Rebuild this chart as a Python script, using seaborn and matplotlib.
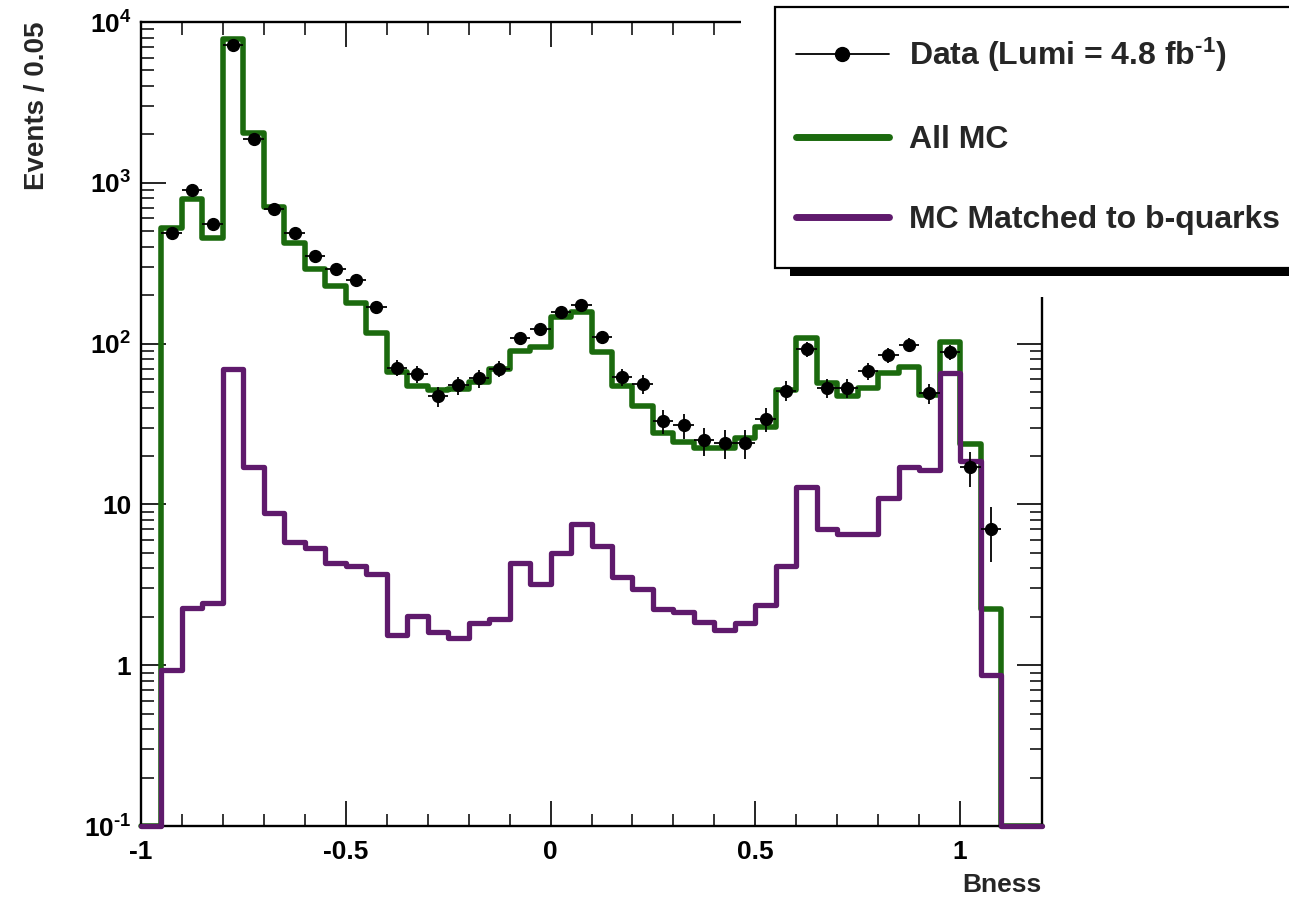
import numpy as np
import pandas as pd
import matplotlib
matplotlib.use("Agg")
import matplotlib.pyplot as plt
import seaborn as sns
from matplotlib.patches import Rectangle
from matplotlib.lines import Line2D
from matplotlib.ticker import MultipleLocator, LogLocator, NullFormatter

# ---- binning of the Bness variable -------------------------------------
bin_low = -1.0
bin_width = 0.05
n_bins = 44

# ---- histogram contents (events per 0.05) -------------------------------
all_mc = [0, 520, 790, 452, 7890, 2030, 712, 425, 293, 228,
          178, 117, 66.7, 54.6, 51.3, 52.0, 57.3, 69.3, 90.0, 94.6,
          147, 158, 88.8, 54.6, 41.0, 27.7, 24.6, 22.3, 22.3, 25.7,
          30.1, 51.3, 109, 56.5, 46.9, 53.3, 66.1, 72.0, 47.8, 102,
          23.7, 2.23, 0, 0]

b_matched = [0, 0.93, 2.26, 2.43, 70.0, 17.0, 8.8, 5.8, 5.37, 4.35,
             4.11, 3.68, 1.54, 2.01, 1.62, 1.47, 1.82, 1.93, 4.35, 3.19,
             5.02, 7.53, 5.52, 3.54, 2.97, 2.23, 2.13, 1.86, 1.66, 1.84,
             2.36, 4.15, 12.9, 7.08, 6.53, 6.53, 11.0, 17.1, 16.4, 65.5,
             18.6, 0.87, 0, 0]

data_counts = [0, 484, 900, 553, 7210, 1867, 685, 484, 351, 293,
               249, 170, 71, 65, 47, 55, 61, 70, 108, 123,
               158, 174, 110, 62, 56, 33, 31, 25, 24, 24,
               34, 51, 92, 53, 53, 68, 85, 98, 49, 89,
               17, 7, 0, 0]

# ---- axis ticks and labels ---------------------------------------------
x_tick_values = [-1, -0.5, 0, 0.5, 1]
x_tick_labels = ["-1", "-0.5", "0", "0.5", "1"]
y_tick_values = [0.1, 1, 10, 100, 1000, 10000]
y_tick_labels = [r"$10^{\text{-}1}$", "1", "10", r"$10^{2}$", r"$10^{3}$", r"$10^{4}$"]
legend_labels = [r"Data (Lumi = 4.8 fb$^{\text{-}1}$)", "All MC", "MC Matched to b-quarks"]

green = "#1b6a0e"
purple = "#5f1a6c"

sns.set_theme(style="white")
plt.rcParams.update({
    "font.family": ["Liberation Sans", "DejaVu Sans"],
    "font.weight": "bold",
    "axes.labelweight": "bold",
    "mathtext.fontset": "custom",
    "mathtext.rm": "Liberation Sans:bold",
    "mathtext.it": "Liberation Sans:bold",
    "mathtext.bf": "Liberation Sans:bold",
    "mathtext.default": "regular",
    "axes.unicode_minus": False,
})

W, H = 1289, 901
fig = plt.figure(figsize=(W / 100, H / 100), dpi=100)
ax = fig.add_axes([141 / W, 1 - 826 / H, (1042 - 141) / W, (826 - 22) / H])

y_min, y_max = 0.1, 1e4
ax.set_yscale("log")

edges = np.round(bin_low + bin_width * np.arange(n_bins + 1), 4)
centers = edges[:-1] + bin_width / 2

hist_df = pd.DataFrame({
    "bness": centers,
    # empty bins are drawn on the lower edge of the log axis
    "all_mc": np.where(np.array(all_mc) > 0, all_mc, y_min),
    "b_matched": np.where(np.array(b_matched) > 0, b_matched, y_min),
})

sns.histplot(data=hist_df, x="bness", weights="all_mc", bins=list(edges),
             element="step", fill=False, color=green, linewidth=4.0,
             clip_on=False, ax=ax, zorder=2)
sns.histplot(data=hist_df, x="bness", weights="b_matched", bins=list(edges),
             element="step", fill=False, color=purple, linewidth=3.8,
             clip_on=False, ax=ax, zorder=3)

counts = np.array(data_counts, dtype=float)
has_data = counts > 0
ax.errorbar(centers[has_data], counts[has_data],
            yerr=np.sqrt(counts[has_data]), xerr=bin_width / 2,
            fmt="o", color="black", markersize=8.5, elinewidth=1.3,
            capsize=0, zorder=4)

ax.set_xlim(edges[0], edges[-1])
ax.set_ylim(y_min, y_max)

ax.set_xticks(x_tick_values, labels=x_tick_labels)
ax.xaxis.set_minor_locator(MultipleLocator(0.1))
ax.set_yticks(y_tick_values, labels=y_tick_labels)
ax.yaxis.set_minor_locator(LogLocator(base=10, subs=np.arange(2, 10)))
ax.yaxis.set_minor_formatter(NullFormatter())

ax.tick_params(axis="both", which="both", direction="in",
               left=True, bottom=True, top=True, right=True,
               color="black", labelsize=19, labelcolor="black")
ax.tick_params(axis="both", which="major", length=18, width=1.2)
ax.tick_params(axis="both", which="minor", length=9, width=1.1)
ax.tick_params(axis="x", which="major", pad=10)
ax.tick_params(axis="y", which="major", pad=7)

for side in ["left", "right", "top", "bottom"]:
    ax.spines[side].set_visible(True)
    ax.spines[side].set_color("black")
    ax.spines[side].set_linewidth(1.7)

ax.set_xlabel("Bness", fontsize=19, fontweight="bold", loc="right")
ax.xaxis.set_label_coords(1.0, -0.058)
ax.set_ylabel("Events / 0.05", fontsize=20, fontweight="bold", loc="top")
ax.yaxis.set_label_coords(-0.101, 1.0)
ax.grid(False)


def fx(px):
    return px / W


def fy(py):
    return 1 - py / H


# legend panel: cleared area, drop shadow and framed box
fig.add_artist(Rectangle((fx(741), fy(297)), 1.0, 297 / H + 0.01,
                         transform=fig.transFigure, facecolor="white",
                         edgecolor="none", zorder=5))
fig.add_artist(Rectangle((fx(790), fy(276)), 1.0, 9 / H,
                         transform=fig.transFigure, facecolor="black",
                         edgecolor="none", zorder=6))
fig.add_artist(Rectangle((fx(775), fy(268)), 1.0, 261 / H,
                         transform=fig.transFigure, facecolor="white",
                         edgecolor="black", linewidth=1.6, zorder=7))

handles = [
    Line2D([], [], color="black", marker="o", markersize=10, linewidth=1.3),
    Line2D([], [], color=green, linewidth=5),
    Line2D([], [], color=purple, linewidth=5),
]
leg = fig.legend(handles, legend_labels, loc="upper left",
                 bbox_to_anchor=(fx(796), fy(36)), frameon=False,
                 prop={"size": 23, "weight": "bold"},
                 handlelength=2.9, handletextpad=0.65, labelspacing=1.58,
                 borderpad=0, borderaxespad=0)
leg.set_zorder(8)

fig.savefig("out.png", dpi=100, facecolor="white")
